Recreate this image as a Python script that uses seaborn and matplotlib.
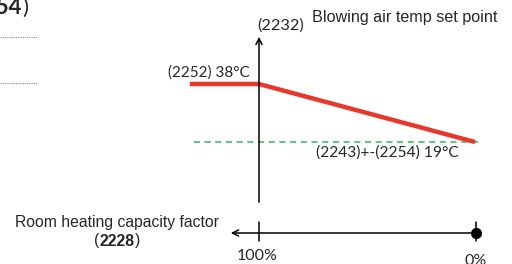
import seaborn as sns
import matplotlib.pyplot as plt
import pandas as pd

# Daten: Sollwert der Ausblastemperatur gegen Raumheizleistungsfaktor
capacity_pct = [132, 100, 0]      # flacher Teil links von 100 %
setpoint_c = [38, 38, 19]
limit_pct = [132, -1.5]
limit_c = [19, 19]

df_set = pd.DataFrame({'pct': capacity_pct, 'temp': setpoint_c})
df_lim = pd.DataFrame({'pct': limit_pct, 'temp': limit_c})

W, H = 512, 264


def px(x, y):
    # Pixel -> Achsenbruch
    return x / W, 1 - y / H


sns.set_style('white')
plt.rcParams['font.family'] = ['Lato', 'DejaVu Sans']

fig = plt.figure(figsize=(W / 100, H / 100), dpi=100)
ax = fig.add_axes([0, 0, 1, 1])
ax.axis('off')

# 100 % bei x=259 px, 0 % bei x=475 px; 38 °C bei y=84 px, 19 °C bei y=142 px
sx = (475 - 259) / 100
sy = (142 - 84) / 19
ax.set_xlim(100 + 259 / sx, 100 - (W - 259) / sx)
ax.set_ylim(38 - (H - 84) / sy, 38 + 84 / sy)

sns.lineplot(data=df_lim, x='pct', y='temp', ax=ax, color='#2fb85a',
             linestyle=(0, (4, 3)), linewidth=1.1)
sns.lineplot(data=df_set, x='pct', y='temp', ax=ax, color='#e8382c',
             linewidth=3.2, solid_capstyle='butt')

tr = ax.transAxes
arrow = dict(arrowstyle='->', color='black', lw=1.1, mutation_scale=11)

# vertikale Achse
ax.annotate('', xy=px(259, 34), xytext=px(259, 205), xycoords=tr,
            textcoords=tr, arrowprops=arrow)
# horizontale Achse
ax.annotate('', xy=px(228, 233), xytext=px(476, 233), xycoords=tr,
            textcoords=tr, arrowprops=arrow)
for xt in (259, 476):
    ax.plot(*zip(px(xt, 222), px(xt, 241)), transform=tr, color='black', lw=1.1)
ax.plot(*px(476, 233), 'o', transform=tr, color='black', ms=7)

# gestrichelte graue Linien links oben
for yl in (37, 83):
    ax.plot(*zip(px(0, yl), px(37, yl)), transform=tr, color='#888888',
            lw=0.8, linestyle=(0, (1, 1)))

arial = ['Liberation Sans', 'DejaVu Sans']
ax.text(*px(22, 8), '2254', transform=tr, fontsize=16, fontweight='bold',
        ha='right', va='center')
ax.text(*px(22, 8), ')', transform=tr, fontsize=16, ha='left', va='center')

ax.text(*px(257, 26), '(2232)', transform=tr, fontsize=11.7, ha='left', va='center')
ax.text(*px(312, 18), 'Blowing air temp set point', transform=tr, fontsize=11.6,
        family=arial, ha='left', va='center')
ax.text(*px(168, 73), '(2252) 38°C', transform=tr, fontsize=11, ha='left', va='center')
ax.text(*px(316, 153), '(2243)+-(2254) 19°C', transform=tr, fontsize=11.2,
        ha='left', va='center')

ax.text(*px(117, 223), 'Room heating capacity factor', transform=tr, fontsize=11.3,
        family=arial, ha='center', va='center')
ax.text(*px(117, 241), '2228', transform=tr, fontsize=11.3, family=arial,
        fontweight='bold', ha='center', va='center')
ax.text(*px(99, 241), '(', transform=tr, fontsize=11.3, family=arial,
        ha='right', va='center')
ax.text(*px(135, 241), ')', transform=tr, fontsize=11.3, family=arial,
        ha='left', va='center')

ax.text(*px(257, 256), '100%', transform=tr, fontsize=11.5, ha='center', va='center')
ax.text(*px(476, 261), '0%', transform=tr, fontsize=11.5, ha='center', va='center')

plt.savefig('out.png', dpi=100)
